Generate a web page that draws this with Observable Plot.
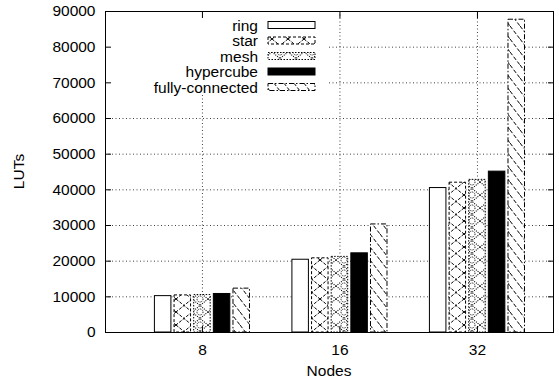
<!DOCTYPE html>
<html><head><meta charset="utf-8">
<script src="https://cdn.jsdelivr.net/npm/d3@7"></script>
<script src="https://cdn.jsdelivr.net/npm/@observablehq/plot@0.6"></script>
<style>html,body{margin:0;padding:0;background:#fff} svg{display:block}</style>
</head><body><div id="chart"></div>
<script>
// ---- data ----
const nodes = ["8", "16", "32"];
const seriesNames = ["ring", "star", "mesh", "hypercube", "fully-connected"];
const ring      = [10200, 20400, 40500];
const star      = [10400, 20800, 42000];
const mesh      = [10500, 21200, 42800];
const hypercube = [10800, 22200, 45100];
const fully     = [12300, 30300, 87700];
const yTicks = [0, 10000, 20000, 30000, 40000, 50000, 60000, 70000, 80000, 90000];
const yGrid  = [10000, 20000, 30000, 40000, 50000, 60000, 70000, 80000];

// ---- styles ----
const seriesValues = [ring, star, mesh, hypercube, fully];
const fills = ["white", "url(#pStar)", "url(#pMesh)", "black", "url(#pFully)"];
const dashes = [null, "3,2", "1.5,1.5", null, "5,2,1.5,2"];
const pitch = 1 / 7, bw = 0.12;
const FONT = "'Liberation Sans', Arial, Helvetica, sans-serif";

const barMarks = seriesValues.map((vals, k) => {
  const data = nodes.map((n, i) => ({i, v: vals[i]}));
  return Plot.rect(data, {
    x1: d => d.i + (k - 2) * pitch - bw / 2,
    x2: d => d.i + (k - 2) * pitch + bw / 2,
    y1: 0, y2: "v",
    fill: fills[k], stroke: "black", strokeWidth: 1,
    strokeDasharray: dashes[k]
  });
});

const chart = Plot.plot({
  width: 559, height: 382,
  marginLeft: 105, marginRight: 6, marginTop: 11, marginBottom: 50,
  style: {fontFamily: FONT, fontSize: "15.5px", color: "black", background: "white"},
  x: {type: "linear", domain: [-0.705, 2.553]},
  y: {domain: [0, 90000]},
  marks: [
    Plot.ruleY(yGrid, {stroke: "#000", strokeOpacity: 0.75, strokeDasharray: "1,2.5"}),
    Plot.ruleX([0, 1, 2], {stroke: "#000", strokeOpacity: 0.75, strokeDasharray: "1,2.5"}),
    ...barMarks,
    Plot.frame({stroke: "black", strokeWidth: 1}),
    Plot.axisY({ticks: yTicks, tickSize: -6, tickPadding: 16, tickFormat: d3.format("d"), label: null}),
    Plot.axisY({anchor: "right", ticks: yTicks, tickSize: -6, tickFormat: () => "", label: null}),
    Plot.axisX({ticks: [0, 1, 2], tickSize: -6, tickPadding: 17, tickFormat: i => nodes[i], label: null}),
    Plot.axisX({anchor: "top", ticks: [0, 1, 2], tickSize: -6, tickFormat: () => "", label: null})
  ]
});

const svgEl = chart.tagName.toLowerCase() === "svg" ? chart : chart.querySelector("svg");
const svg = d3.select(svgEl);
// patterns
const defs = svg.insert("defs", ":first-child");
defs.html(`
<pattern id="pStar" patternUnits="userSpaceOnUse" width="16" height="13">
  <rect width="16" height="13" fill="white"/>
  <path d="M0,0L16,13M16,0L0,13" stroke="black" stroke-width="1" stroke-dasharray="3,1.5" fill="none"/>
</pattern>
<pattern id="pMesh" patternUnits="userSpaceOnUse" width="16" height="13">
  <rect width="16" height="13" fill="white"/>
  <path d="M0,0L16,13M16,0L0,13" stroke="black" stroke-width="1.1" stroke-dasharray="1,1.2" fill="none"/>
  <circle cx="8" cy="0" r="3" fill="none" stroke="black" stroke-width="1" stroke-dasharray="1,1"/>
  <circle cx="8" cy="13" r="3" fill="none" stroke="black" stroke-width="1" stroke-dasharray="1,1"/>
</pattern>
<pattern id="pFully" patternUnits="userSpaceOnUse" width="10" height="13">
  <rect width="10" height="13" fill="white"/>
  <path d="M0,0L10,13" stroke="black" stroke-width="1" stroke-dasharray="4,2" fill="none"/>
</pattern>`);

// legend background over grid, under bars
const gs = Array.from(svgEl.children).filter(e => e.tagName.toLowerCase() === "g");
const bg = document.createElementNS("http://www.w3.org/2000/svg", "rect");
bg.setAttribute("x", 106); bg.setAttribute("y", 12);
bg.setAttribute("width", 222); bg.setAttribute("height", 83);
bg.setAttribute("fill", "white");
if (gs.length > 2) svgEl.insertBefore(bg, gs[2]); else svgEl.appendChild(bg);

// legend content
const leg = svg.append("g").attr("font-family", FONT).attr("font-size", "15.5px");
seriesNames.forEach((name, k) => {
  const cy = 25 + k * 15.5;
  leg.append("text").attr("x", 258).attr("y", cy).attr("dy", "0.36em")
    .attr("text-anchor", "end").attr("fill", "black").text(name);
  const r = leg.append("rect").attr("x", 268).attr("y", cy - 3.5).attr("width", 47).attr("height", 7)
    .attr("fill", fills[k]).attr("stroke", "black").attr("stroke-width", 1);
  if (dashes[k]) r.attr("stroke-dasharray", dashes[k]);
});

// axis titles
svg.append("text").attr("transform", "translate(18,171.5) rotate(-90)")
  .attr("text-anchor", "middle").attr("dy", "0.36em")
  .attr("font-family", FONT).attr("font-size", "15.5px").attr("fill", "black").text("LUTs");
svg.append("text").attr("x", 329).attr("y", 370)
  .attr("text-anchor", "middle").attr("dy", "0.36em")
  .attr("font-family", FONT).attr("font-size", "15.5px").attr("fill", "black").text("Nodes");

document.getElementById("chart").appendChild(chart);
</script>
</body></html>
